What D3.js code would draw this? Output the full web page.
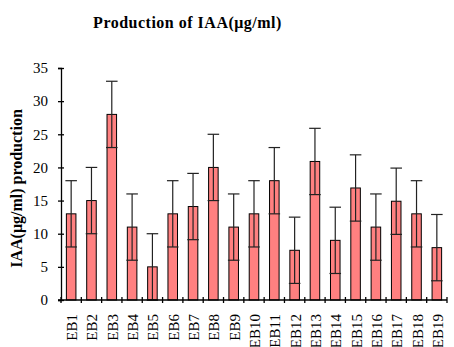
<!DOCTYPE html>
<html>
<head>
<meta charset="utf-8">
<script src="https://cdn.jsdelivr.net/npm/d3@7"></script>
<style>
  body { margin: 0; background: #fff; }
  text { font-family: "Liberation Serif", "Times New Roman", serif; }
</style>
</head>
<body>
<div id="chart"></div>
<script>
const W = 454, H = 347;
const MARGIN = { top: 68, right: 7, bottom: 47, left: 61 };
const AXIS_W = W - MARGIN.left - MARGIN.right, AXIS_H = H - MARGIN.top - MARGIN.bottom;

// data
const strains = ["EB1","EB2","EB3","EB4","EB5","EB6","EB7","EB8","EB9","EB10",
                 "EB11","EB12","EB13","EB14","EB15","EB16","EB17","EB18","EB19"];
const iaa = [13, 15, 28, 11, 5, 13, 14.1, 20, 11, 13, 18, 7.5, 20.9, 9, 16.9, 11, 14.9, 13, 7.9];
const errs = [5, 5, 5, 5, 5, 5, 5, 5, 5, 5, 5, 5, 5, 5, 5, 5, 5, 5, 5];
const yTicks = [0, 5, 10, 15, 20, 25, 30, 35];

const svg = d3.select("#chart")
    .append("svg")
    .attr("width", W)
    .attr("height", H);
const g = svg.append("g").attr("transform", "translate(" + MARGIN.left + "," + MARGIN.top + ")");

let x = d3.scaleBand()
    .domain(strains)
    .range([0, AXIS_W])
    .paddingInner(0.53)
    .paddingOuter(0.265);
let y = d3.scaleLinear()
    .domain([0, 35])
    .range([AXIS_H, 0]);

// bars
g.selectAll("rect.bar")
    .data(strains)
    .enter().append("rect")
    .attr("class", "bar")
    .attr("x", d => x(d))
    .attr("y", (d, i) => y(iaa[i]))
    .attr("width", x.bandwidth())
    .attr("height", (d, i) => y(0) - y(iaa[i]))
    .attr("fill", "#ff8080")
    .attr("stroke", "#000")
    .attr("stroke-width", 1);

// error bars
const eb = g.selectAll("g.err")
    .data(strains)
    .enter().append("g")
    .attr("class", "err")
    .attr("stroke", "#222")
    .attr("stroke-width", 1.2);
const cap = x.bandwidth() / 2 + 1;
eb.append("line")
    .attr("x1", d => x(d) + x.bandwidth() / 2)
    .attr("x2", d => x(d) + x.bandwidth() / 2)
    .attr("y1", (d, i) => y(Math.max(0, iaa[i] - errs[i])))
    .attr("y2", (d, i) => y(iaa[i] + errs[i]));
eb.append("line")
    .attr("x1", d => x(d) + x.bandwidth() / 2 - cap)
    .attr("x2", d => x(d) + x.bandwidth() / 2 + cap)
    .attr("y1", (d, i) => y(iaa[i] + errs[i]))
    .attr("y2", (d, i) => y(iaa[i] + errs[i]));
eb.append("line")
    .attr("x1", d => x(d) + x.bandwidth() / 2 - cap)
    .attr("x2", d => x(d) + x.bandwidth() / 2 + cap)
    .attr("y1", (d, i) => y(Math.max(0, iaa[i] - errs[i])))
    .attr("y2", (d, i) => y(Math.max(0, iaa[i] - errs[i])));

// y axis
const yAx = g.append("g")
    .attr("class", "yaxis")
    .call(d3.axisLeft(y).tickValues(yTicks).tickSize(3).tickPadding(10));
yAx.selectAll(".tick line").attr("x2", 3).attr("x1", -3).attr("stroke", "#000").attr("stroke-width", 1.3);
yAx.select(".domain").attr("stroke", "#000").attr("stroke-width", 1.3);
yAx.selectAll("text").attr("font-size", 15).attr("fill", "#000")
    .style("font-family", "Liberation Serif, serif");

// x axis
const xAx = g.append("g")
    .attr("class", "xaxis")
    .attr("transform", "translate(0," + AXIS_H + ")")
    .call(d3.axisBottom(x).tickSize(0).tickPadding(0));
xAx.select(".domain").remove();
xAx.append("line")
    .attr("x1", -3).attr("x2", AXIS_W)
    .attr("stroke", "#000").attr("stroke-width", 1.3);
xAx.selectAll("line.bound")
    .data(d3.range(strains.length + 1))
    .enter().append("line")
    .attr("class", "bound")
    .attr("x1", i => i * x.step()).attr("x2", i => i * x.step())
    .attr("y1", -3).attr("y2", 3)
    .attr("stroke", "#000").attr("stroke-width", 1.3);
xAx.selectAll(".tick text")
    .attr("font-size", 15)
    .attr("fill", "#000")
    .style("font-family", "Liberation Serif, serif")
    .attr("text-anchor", "end")
    .attr("transform", "translate(6,14) rotate(-90)")
    .attr("dy", 0)
    .attr("y", 0)
    .attr("x", 0);

// titles
svg.append("text")
    .attr("x", 187.5)
    .attr("y", 28)
    .attr("text-anchor", "middle")
    .attr("font-size", 16)
    .attr("font-weight", "bold")
    .attr("letter-spacing", 0.5)
    .text("Production of IAA(μg/ml)");
svg.append("text")
    .attr("transform", "translate(22,188.5) rotate(-90)")
    .attr("text-anchor", "middle")
    .attr("font-size", 16)
    .attr("font-weight", "bold")
    .text("IAA(μg/ml) production");
</script>
</body>
</html>
